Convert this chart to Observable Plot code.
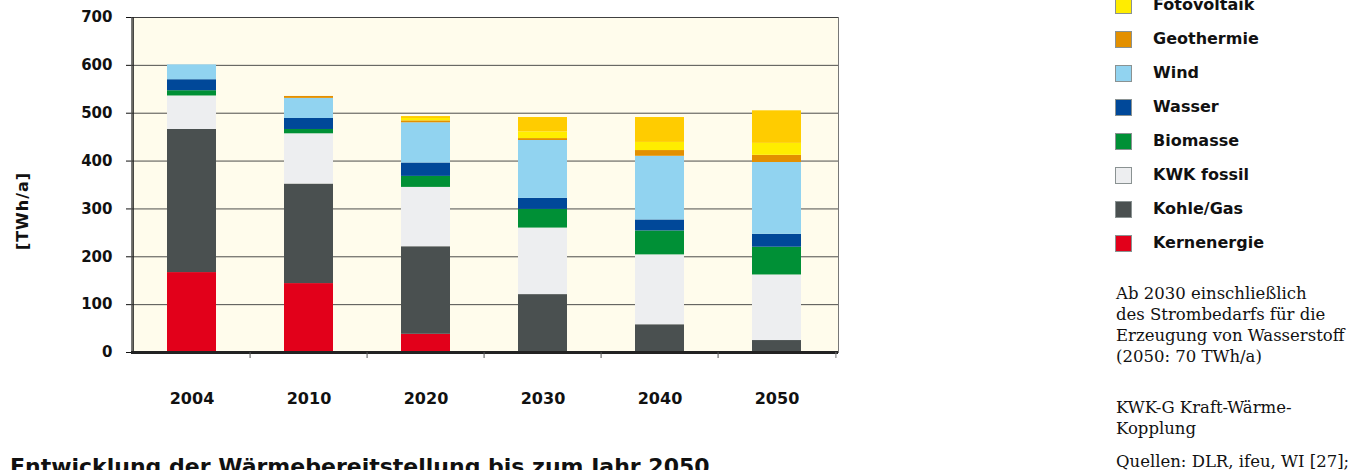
<!DOCTYPE html>
<html>
<head>
<meta charset="utf-8">
<script src="https://cdn.jsdelivr.net/npm/d3@7"></script>
<script src="https://cdn.jsdelivr.net/npm/@observablehq/plot@0.6"></script>
<style>
  html, body { margin: 0; padding: 0; background: #ffffff; }
  #wrap { position: relative; width: 1350px; height: 470px; overflow: hidden; }
  #chart { position: absolute; left: 0; top: 0; }
  #ylabel { position: absolute; left: 22px; top: 211px; transform: translate(-50%, -50%) rotate(-90deg);
    font-family: "DejaVu Sans", sans-serif; font-weight: bold; font-size: 16px; letter-spacing: 1px; color: #111; white-space: nowrap; }
  #legend { position: absolute; left: 1115px; top: -3px; font-family: "DejaVu Sans", sans-serif; font-weight: bold; font-size: 16px; color: #111; }
  .row { position: relative; height: 34px; }
  .sw { position: absolute; left: 0; top: 0; width: 15px; height: 15px; border: 1.5px solid #8a9292; }
  .lab { position: absolute; left: 38px; top: -1px; white-space: nowrap; line-height: 18px; }
  #notes { position: absolute; left: 1116px; top: 283px; font-family: "DejaVu Serif", serif; font-size: 16.5px; line-height: 21px; color: #111; }
  #notes p { margin: 0; }
  #title { position: absolute; left: 10px; top: 454px; font-family: "DejaVu Sans", sans-serif; font-weight: bold; font-size: 22px; color: #111; white-space: nowrap; }
</style>
</head>
<body>
<div id="wrap">
  <div id="chart"></div>
  <div id="ylabel">[TWh/a]</div>
  <div id="legend"></div>
  <div id="notes">
    <p>Ab 2030 einschließlich</p>
    <p>des Strombedarfs für die</p>
    <p>Erzeugung von Wasserstoff</p>
    <p>(2050: 70 TWh/a)</p>
    <p style="margin-top:30px">KWK-G Kraft-Wärme-</p>
    <p>Kopplung</p>
    <p style="margin-top:12px">Quellen: DLR, ifeu, WI [27];</p>
  </div>
  <div id="title">Entwicklung der Wärmebereitstellung bis zum Jahr 2050</div>
</div>
<script>
const years = ["2004", "2010", "2020", "2030", "2040", "2050"];
const kernenergie = [167, 144, 38, 0, 0, 0];
const kohleGas    = [299, 208, 183, 121, 58, 25];
const kwkFossil   = [70, 105, 124, 139, 146, 137];
const biomasse    = [11, 9, 23, 39, 50, 58];
const wasser      = [23, 23, 28, 23, 23, 27];
const wind        = [31, 42, 84, 121, 133, 150];
const geothermie  = [0, 4, 4, 4, 12, 15];
const fotovoltaik = [0, 0, 5, 14, 17, 25];
const eeImport    = [0, 0, 4, 30, 52, 68];

const seriesNames = ["Kernenergie", "Kohle/Gas", "KWK fossil", "Biomasse", "Wasser", "Wind", "Geothermie", "Fotovoltaik", "EE-Import"];
const seriesValues = [kernenergie, kohleGas, kwkFossil, biomasse, wasser, wind, geothermie, fotovoltaik, eeImport];
const seriesColors = ["#e2001a", "#4a5050", "#edeef0", "#009036", "#004899", "#91d3f0", "#e39000", "#ffed00", "#ffcc00"];
const legendNames = ["Fotovoltaik", "Geothermie", "Wind", "Wasser", "Biomasse", "KWK fossil", "Kohle/Gas", "Kernenergie"];
const yTicks = [0, 100, 200, 300, 400, 500, 600, 700];

const data = [];
seriesNames.forEach((s, i) => years.forEach((y, j) => data.push({year: y, series: s, value: seriesValues[i][j]})));

const W = 850, H = 420, ML = 131, MR = 12, MT = 17, MB = 68;
const step = (W - ML - MR) / years.length;

const chart = Plot.plot({
  width: W, height: H,
  marginLeft: ML, marginRight: MR, marginTop: MT, marginBottom: MB,
  style: {fontFamily: "DejaVu Sans, sans-serif", fontWeight: "bold", color: "#111", background: "transparent"},
  x: {domain: years, paddingInner: 0.58, paddingOuter: 0.29, label: null},
  y: {domain: [0, 700], label: null},
  color: {domain: seriesNames, range: seriesColors},
  marks: [
    Plot.frame({fill: "#fffcec", stroke: "#777", strokeWidth: 1}),
    Plot.gridY(yTicks, {stroke: "#3a3a3a", strokeOpacity: 0.9, strokeWidth: 1}),
    Plot.barY(data, {x: "year", y: "value", fill: "series", order: seriesNames}),
    Plot.ruleX(years.slice(0, 1), {x: d => d, dx: -step / 2, stroke: "#222", strokeWidth: 1.5}),
    Plot.ruleY([0], {stroke: "#222", strokeWidth: 3}),
    Plot.axisY({ticks: yTicks, tickSize: 5, tickPadding: 14, fontSize: 15, label: null}),
    Plot.axisX({tickSize: 0, tickPadding: 40, fontSize: 16, label: null}),
    Plot.axisX(years.slice(1), {tickSize: 6, tickFormat: () => "", dx: -step / 2, stroke: "#555", label: null}),
    Plot.axisX(years.slice(-1), {tickSize: 6, tickFormat: () => "", dx: step / 2, stroke: "#777", label: null})
  ]
});
document.getElementById("chart").appendChild(chart);

const legend = document.getElementById("legend");
legendNames.forEach(name => {
  const row = document.createElement("div");
  row.className = "row";
  const sw = document.createElement("div");
  sw.className = "sw";
  sw.style.background = seriesColors[seriesNames.indexOf(name)];
  const lab = document.createElement("div");
  lab.className = "lab";
  lab.textContent = name;
  row.appendChild(sw); row.appendChild(lab);
  legend.appendChild(row);
});
</script>
</body>
</html>
